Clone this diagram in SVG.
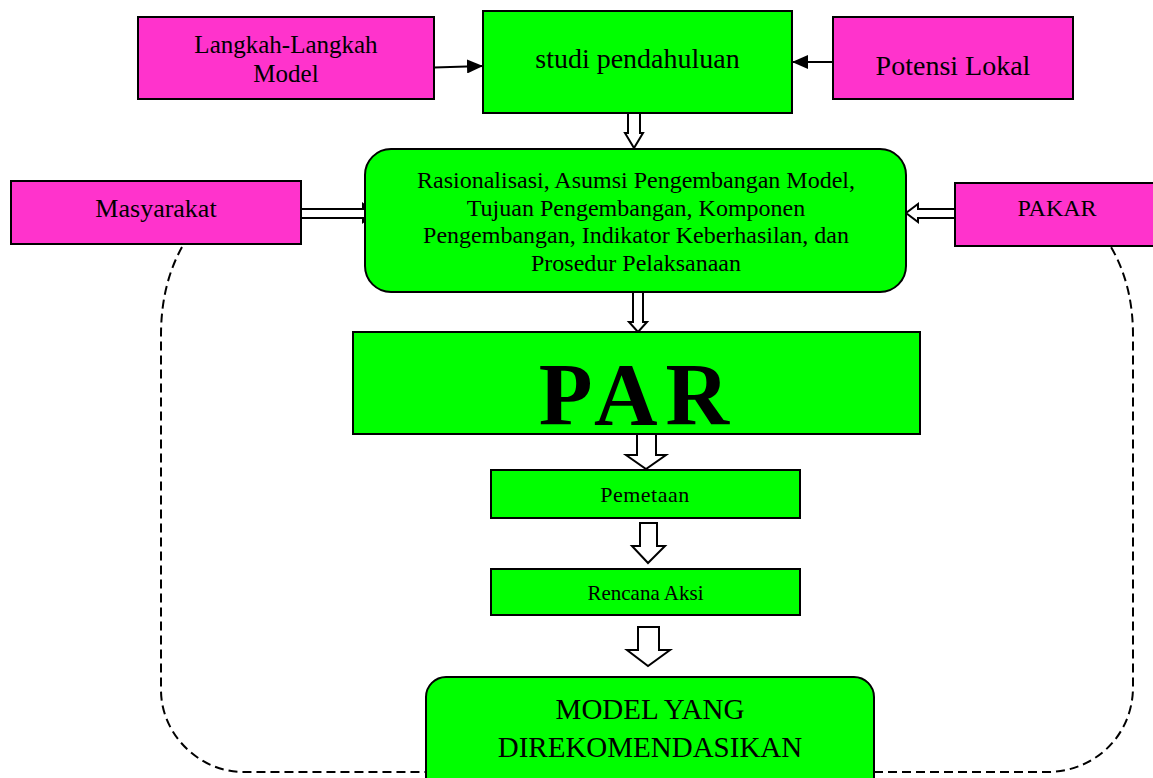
<svg xmlns="http://www.w3.org/2000/svg" width="1153" height="778" viewBox="0 0 1153 778">
<style>
.pink{fill:#FF33CC;stroke:#000;stroke-width:2}
.green{fill:#00FF00;stroke:#000;stroke-width:2}
.t{font-family:"Liberation Serif","Times New Roman",serif;fill:#000;text-anchor:middle}
.blk{fill:#fff;stroke:#000;stroke-width:2;stroke-linejoin:miter}
.thin{fill:none;stroke:#000;stroke-width:2}
.dash{fill:none;stroke:#000;stroke-width:2;stroke-dasharray:9 5}
</style>
<defs>
<marker id="ah" markerUnits="userSpaceOnUse" markerWidth="16" markerHeight="14" refX="16" refY="7" orient="auto">
<polygon points="0,0 16,7 0,14" fill="#000"/>
</marker>
</defs>
<g id="connectors">
<path class="dash" d="M182,247 Q161,285 161,335 L161,690 C161,735 200,772 243,772 L426,772"/>
<path class="dash" d="M874,772 L1047,772 C1095,772 1133,735 1133,687 L1133,335 Q1133,285 1111,247"/>
<line class="thin" x1="434" y1="67.5" x2="483" y2="66" marker-end="url(#ah)"/>
<line class="thin" x1="833" y1="62" x2="792" y2="62" marker-end="url(#ah)"/>
<polygon class="blk" points="628,113 640,113 640,133 643,133 634,148 625,133 628,133"/>
<polygon class="blk" points="633,292 643,292 643,322 647,322 638,332 629,322 633,322"/>
<polygon class="blk" points="637,434 656,434 656,455 666,455 646,469 626,455 637,455"/>
<polygon class="blk" points="640,523 657,523 657,546 665,546 648,563 632,546 640,546"/>
<polygon class="blk" points="638,627 659,627 659,650 670,650 648,666 627,650 638,650"/>
<polygon class="blk" points="301,209 363,209 363,204 375,213 363,222 363,218 301,218"/>
<polygon class="blk" points="955,209 918,209 918,204 906,213 918,222 918,218 955,218"/>
</g>
<g id="langkah">
<rect class="pink" x="138" y="17" width="296" height="82"/>
<text class="t" x="286" y="53" font-size="25">Langkah-Langkah</text>
<text class="t" x="286" y="82" font-size="25">Model</text>
</g>
<g id="studi">
<rect class="green" x="483" y="11" width="309" height="102"/>
<text class="t" x="637.5" y="68" font-size="28">studi pendahuluan</text>
</g>
<g id="potensi">
<rect class="pink" x="833" y="17" width="240" height="82"/>
<text class="t" x="953" y="75" font-size="28">Potensi Lokal</text>
</g>
<g id="masyarakat">
<rect class="pink" x="11" y="181" width="290" height="63"/>
<text class="t" x="156" y="217" font-size="26">Masyarakat</text>
</g>
<g id="pakar">
<rect class="pink" x="955" y="183" width="205" height="63"/>
<text class="t" x="1057" y="216" font-size="24">PAKAR</text>
</g>
<g id="rasionalisasi">
<rect class="green" x="365" y="149" width="541" height="143" rx="26" ry="26"/>
<text class="t" x="636" y="188" font-size="24">Rasionalisasi, Asumsi Pengembangan Model,</text>
<text class="t" x="636" y="216" font-size="24">Tujuan Pengembangan, Komponen</text>
<text class="t" x="636" y="243" font-size="24">Pengembangan, Indikator Keberhasilan, dan</text>
<text class="t" x="636" y="271" font-size="24">Prosedur Pelaksanaan</text>
</g>
<g id="par">
<rect class="green" x="353" y="332" width="567" height="102"/>
<text class="t" x="638" y="424" font-size="88" font-weight="bold" letter-spacing="8">PAR</text>
</g>
<g id="pemetaan">
<rect class="green" x="491" y="470" width="309" height="48"/>
<text class="t" x="645" y="502" font-size="22" letter-spacing="0.5">Pemetaan</text>
</g>
<g id="rencana">
<rect class="green" x="491" y="569" width="309" height="46"/>
<text class="t" x="645.5" y="600" font-size="21">Rencana Aksi</text>
</g>
<g id="model">
<rect class="green" x="426" y="677" width="448" height="120" rx="20" ry="20"/>
<text class="t" x="650" y="719" font-size="29">MODEL YANG</text>
<text class="t" x="650" y="757" font-size="29">DIREKOMENDASIKAN</text>
</g>
</svg>
